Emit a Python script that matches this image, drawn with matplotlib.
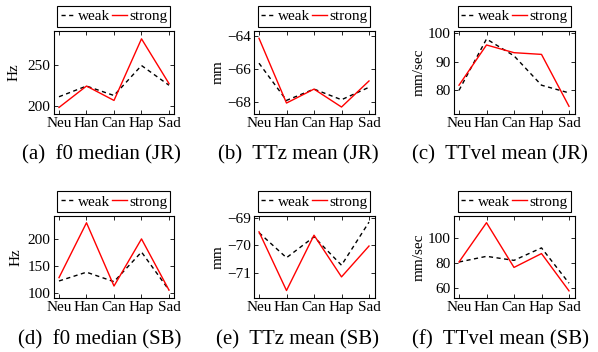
import matplotlib
matplotlib.use("Agg")
import matplotlib.pyplot as plt

plt.rcParams['font.family'] = ['Liberation Serif', 'DejaVu Serif']
plt.rcParams['mathtext.fontset'] = 'stix'

categories = ["Neu", "Han", "Can", "Hap", "Sad"]

f0_jr_weak = [211, 224, 212.5, 249, 225]
f0_jr_strong = [198, 224, 206.5, 281.5, 227]
ttz_jr_weak = [-65.64, -67.88, -67.2, -67.84, -67.09]
ttz_jr_strong = [-64.14, -68.04, -67.2, -68.28, -66.71]
ttvel_jr_weak = [80, 98, 92.1, 81.8, 79.1]
ttvel_jr_strong = [81.8, 95.9, 93.2, 92.6, 74.4]
f0_sb_weak = [122.8, 138.9, 121.5, 175.9, 106.1]
f0_sb_strong = [128.9, 229.6, 113.5, 200, 106]
ttz_sb_weak = [-69.54, -70.44, -69.69, -70.71, -69.16]
ttz_sb_strong = [-69.51, -71.62, -69.63, -71.13, -70.02]
ttvel_sb_weak = [80.8, 85.3, 82.1, 92, 64]
ttvel_sb_strong = [80.8, 112, 76.5, 87.5, 57.9]

panels = [
    dict(weak=f0_jr_weak, strong=f0_jr_strong, ylabel="Hz", yticks=[200, 250], ylim=(190, 291),
         caption="(a)  f0 median (JR)"),
    dict(weak=ttz_jr_weak, strong=ttz_jr_strong, ylabel="mm", yticks=[-68, -66, -64], ylim=(-68.7, -63.7),
         caption="(b)  TTz mean (JR)"),
    dict(weak=ttvel_jr_weak, strong=ttvel_jr_strong, ylabel="mm/sec", yticks=[80, 90, 100], ylim=(71.7, 100.8),
         caption="(c)  TTvel mean (JR)"),
    dict(weak=f0_sb_weak, strong=f0_sb_strong, ylabel="Hz", yticks=[100, 150, 200], ylim=(91, 242),
         caption="(d)  f0 median (SB)"),
    dict(weak=ttz_sb_weak, strong=ttz_sb_strong, ylabel="mm", yticks=[-71, -70, -69], ylim=(-71.9, -68.94),
         caption="(e)  TTz mean (SB)"),
    dict(weak=ttvel_sb_weak, strong=ttvel_sb_strong, ylabel="mm/sec", yticks=[60, 80, 100], ylim=(52, 117.3),
         caption="(f)  TTvel mean (SB)"),
]

W, H = 598, 352
fig = plt.figure(figsize=(W / 100, H / 100), dpi=100)

lefts = [53.5, 253.5, 453.5]
rows = [(31, 114), (216, 298.3)]
label_x = [-0.27, -0.236, -0.23, -0.26, -0.236, -0.23]
cap_x = [101, 298, 500, 99.5, 297, 500]
cap_y = [155, 340]

x = list(range(1, len(categories) + 1))
for i, p in enumerate(panels):
    r, c = divmod(i, 3)
    top, bot = rows[r]
    ax = fig.add_axes([lefts[c] / W, 1 - bot / H, 121 / W, (bot - top) / H])
    ax.plot(x, p["weak"], color="black", linestyle=(0, (3, 2.5)), linewidth=1.0, label="weak")
    ax.plot(x, p["strong"], color="red", linestyle="-", linewidth=1.0, label="strong")
    ax.set_xlim(0.8, 5.2)
    ax.set_ylim(*p["ylim"])
    ax.set_xticks(x)
    ax.set_xticklabels(categories)
    ax.set_yticks(p["yticks"])
    ax.tick_params(direction="in", length=3, width=0.6, top=True, right=True, labelsize=11, pad=2)
    for s in ax.spines.values():
        s.set_linewidth(0.8)
    ax.set_ylabel(p["ylabel"], fontsize=11)
    ax.yaxis.set_label_coords(label_x[i], 0.5)
    leg = ax.legend(loc="lower center", bbox_to_anchor=(0.5, 1.05), ncol=2, fontsize=11,
                    frameon=True, fancybox=False, edgecolor="black", framealpha=1,
                    handlelength=1.0, handletextpad=0.1, columnspacing=0.15,
                    borderpad=0.22, borderaxespad=0.0)
    leg.get_frame().set_linewidth(0.8)
    fig.text(cap_x[i] / W, 1 - cap_y[r] / H, p["caption"], ha="center", va="center", fontsize=15)

fig.savefig("out.png", dpi=100)
